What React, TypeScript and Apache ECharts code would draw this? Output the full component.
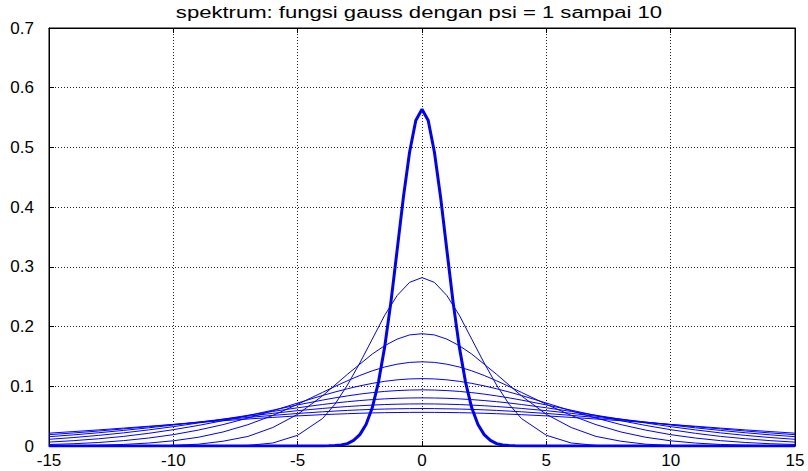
import React, { useEffect, useRef } from "react";
import * as echarts from "echarts";

const TITLE = "spektrum: fungsi gauss dengan psi = 1 sampai 10";
const X_TICKS = [-15, -10, -5, 0, 5, 10, 15];
const Y_TICKS = [0, 0.1, 0.2, 0.3, 0.4, 0.5, 0.6, 0.7];

// sample positions of the thin curves (psi = 2..10)
const xValues = [-15, -14, -13, -12, -11, -10, -9, -8, -7, -6, -5, -4, -3.5, -3, -2.5, -2, -1.5, -1, -0.5, 0, 0.5, 1, 1.5, 2, 2.5, 3, 3.5, 4, 5, 6, 7, 8, 9, 10, 11, 12, 13, 14, 15];
// sample positions of the thick curve (psi = 1)
const xValuesPsi1 = [-15, -4, -3.75, -3.5, -3.25, -3, -2.75, -2.5, -2.25, -2, -1.75, -1.5, -1.25, -1, -0.75, -0.5, -0.25, 0, 0.25, 0.5, 0.75, 1, 1.25, 1.5, 1.75, 2, 2.25, 2.5, 2.75, 3, 3.25, 3.5, 3.75, 4, 15];

const psi1 = [0, 0, 0.0003, 0.001, 0.0018, 0.004, 0.0093, 0.019, 0.036, 0.064, 0.107, 0.166, 0.241, 0.328, 0.416, 0.492, 0.545, 0.564, 0.545, 0.492, 0.416, 0.328, 0.241, 0.166, 0.107, 0.064, 0.036, 0.019, 0.0093, 0.004, 0.0018, 0.001, 0.0003, 0, 0];
const psi2 = [0, 0, 0, 0, 0, 0, 0, 0, 0.001, 0.005, 0.018, 0.046, 0.07, 0.102, 0.139, 0.179, 0.219, 0.252, 0.274, 0.282, 0.274, 0.252, 0.219, 0.179, 0.139, 0.102, 0.07, 0.046, 0.018, 0.005, 0.001, 0, 0, 0, 0, 0, 0, 0, 0];
const psi3 = [0, 0, 0, 0, 0, 0.001, 0.003, 0.008, 0.016, 0.031, 0.053, 0.084, 0.102, 0.12, 0.137, 0.154, 0.168, 0.179, 0.186, 0.188, 0.186, 0.179, 0.168, 0.154, 0.137, 0.12, 0.102, 0.084, 0.053, 0.031, 0.016, 0.008, 0.003, 0.001, 0, 0, 0, 0, 0];
const psi4 = [0.0003, 0.0006, 0.0013, 0.0026, 0.0049, 0.0087, 0.0146, 0.0235, 0.0357, 0.0512, 0.0698, 0.0898, 0.0997, 0.1092, 0.1181, 0.1259, 0.1323, 0.137, 0.14, 0.141, 0.14, 0.137, 0.1323, 0.1259, 0.1181, 0.1092, 0.0997, 0.0898, 0.0698, 0.0512, 0.0357, 0.0235, 0.0146, 0.0087, 0.0049, 0.0026, 0.0013, 0.0006, 0.0003];
const psi5 = [0.0025, 0.0038, 0.0059, 0.009, 0.0133, 0.019, 0.0266, 0.0358, 0.0468, 0.059, 0.072, 0.0846, 0.0904, 0.0958, 0.1007, 0.1049, 0.1083, 0.1108, 0.1123, 0.1128, 0.1123, 0.1108, 0.1083, 0.1049, 0.1007, 0.0958, 0.0904, 0.0846, 0.072, 0.059, 0.0468, 0.0358, 0.0266, 0.019, 0.0133, 0.009, 0.0059, 0.0038, 0.0025];
const psi6 = [0.0065, 0.009, 0.0121, 0.0161, 0.0212, 0.0273, 0.0344, 0.0424, 0.051, 0.06, 0.0688, 0.0769, 0.0806, 0.0839, 0.0869, 0.0894, 0.0914, 0.0928, 0.0937, 0.094, 0.0937, 0.0928, 0.0914, 0.0894, 0.0869, 0.0839, 0.0806, 0.0769, 0.0688, 0.06, 0.051, 0.0424, 0.0344, 0.0273, 0.0212, 0.0161, 0.0121, 0.009, 0.0065];
const psi7 = [0.0112, 0.0142, 0.0178, 0.022, 0.0269, 0.0324, 0.0385, 0.0449, 0.0514, 0.0579, 0.064, 0.0695, 0.072, 0.0742, 0.0761, 0.0777, 0.0789, 0.0799, 0.0804, 0.0806, 0.0804, 0.0799, 0.0789, 0.0777, 0.0761, 0.0742, 0.072, 0.0695, 0.064, 0.0579, 0.0514, 0.0449, 0.0385, 0.0324, 0.0269, 0.022, 0.0178, 0.0142, 0.0112];
const psi8 = [0.0156, 0.0187, 0.0222, 0.0261, 0.0304, 0.0351, 0.04, 0.045, 0.0499, 0.0547, 0.0592, 0.0629, 0.0646, 0.0661, 0.0674, 0.0685, 0.0694, 0.07, 0.0704, 0.0705, 0.0704, 0.07, 0.0694, 0.0685, 0.0674, 0.0661, 0.0646, 0.0629, 0.0592, 0.0547, 0.0499, 0.045, 0.04, 0.0351, 0.0304, 0.0261, 0.0222, 0.0187, 0.0156];
const psi9 = [0.019, 0.0219, 0.0251, 0.0286, 0.0322, 0.0361, 0.04, 0.0439, 0.0478, 0.0513, 0.0545, 0.0573, 0.0585, 0.0596, 0.0605, 0.0613, 0.0619, 0.0623, 0.0626, 0.0627, 0.0626, 0.0623, 0.0619, 0.0613, 0.0605, 0.0596, 0.0585, 0.0573, 0.0545, 0.0513, 0.0478, 0.0439, 0.04, 0.0361, 0.0322, 0.0286, 0.0251, 0.0219, 0.019];
const psi10 = [0.0215, 0.0242, 0.027, 0.03, 0.0331, 0.0361, 0.0393, 0.0423, 0.0452, 0.0479, 0.0504, 0.0525, 0.0533, 0.0541, 0.0548, 0.0554, 0.0558, 0.0561, 0.0563, 0.0564, 0.0563, 0.0561, 0.0558, 0.0554, 0.0548, 0.0541, 0.0533, 0.0525, 0.0504, 0.0479, 0.0452, 0.0423, 0.0393, 0.0361, 0.0331, 0.03, 0.027, 0.0242, 0.0215];

const seriesNames = ["psi = 1", "psi = 2", "psi = 3", "psi = 4", "psi = 5", "psi = 6", "psi = 7", "psi = 8", "psi = 9", "psi = 10"];
const seriesValues = [psi1, psi2, psi3, psi4, psi5, psi6, psi7, psi8, psi9, psi10];

const FONT = "'Liberation Sans', Arial, sans-serif";
const BLUE = "#0000ff";

export default function App() {
  const ref = useRef<HTMLDivElement>(null);
  useEffect(() => {
    if (!ref.current) return;
    const chart = echarts.init(ref.current, undefined, { renderer: "svg" });
    const gridLine = { show: true, lineStyle: { color: "#222", width: 1, type: [1, 2] as any } };
    const tickInside = { show: true, inside: true, length: 5, lineStyle: { color: "#000", width: 1 } };
    const axisLine = { show: true, onZero: false, lineStyle: { color: "#000", width: 1 } };
    const labelStyle = { color: "#000", fontSize: 17, fontFamily: FONT };
    const series: any[] = seriesValues.map((vals, i) => {
      const xs = i === 0 ? xValuesPsi1 : xValues;
      return {
        name: seriesNames[i],
        type: "line",
        xAxisIndex: 0,
        yAxisIndex: 0,
        data: xs.map((x, j) => [x, vals[j]]),
        showSymbol: false,
        symbol: "none",
        smooth: false,
        z: i === 0 ? 5 : 3,
        lineStyle: { color: BLUE, width: i === 0 ? 3 : 1 },
        itemStyle: { color: BLUE },
      };
    });
    chart.setOption({
      animation: false,
      backgroundColor: "#fff",
      graphic: [
        {
          type: "text",
          x: 419,
          y: 13,
          scaleX: 1.38,
          style: {
            text: TITLE,
            fill: "#000",
            font: `16px ${FONT}`,
            textAlign: "center",
            textVerticalAlign: "middle",
          },
        },
      ],
      grid: { left: 49, right: 13, top: 28, bottom: 25, show: true, borderColor: "#000", borderWidth: 1, backgroundColor: "#fff" },
      xAxis: [
        {
          type: "value",
          position: "bottom",
          min: X_TICKS[0],
          max: X_TICKS[X_TICKS.length - 1],
          interval: 5,
          axisLine,
          axisTick: tickInside,
          axisLabel: { ...labelStyle, margin: 6 },
          splitLine: gridLine,
        },
        {
          type: "value",
          position: "top",
          min: X_TICKS[0],
          max: X_TICKS[X_TICKS.length - 1],
          interval: 5,
          axisLine,
          axisTick: tickInside,
          axisLabel: { show: false },
          splitLine: { show: false },
        },
      ],
      yAxis: [
        {
          type: "value",
          position: "left",
          min: Y_TICKS[0],
          max: Y_TICKS[Y_TICKS.length - 1],
          interval: 0.1,
          axisLine,
          axisTick: tickInside,
          axisLabel: { ...labelStyle, margin: 15, formatter: (v: number) => String(Math.round(v * 10) / 10) },
          splitLine: gridLine,
        },
        {
          type: "value",
          position: "right",
          min: Y_TICKS[0],
          max: Y_TICKS[Y_TICKS.length - 1],
          interval: 0.1,
          axisLine,
          axisTick: tickInside,
          axisLabel: { show: false },
          splitLine: { show: false },
        },
      ],
      series,
    });
    return () => chart.dispose();
  }, []);
  return <div ref={ref} style={{ position: "fixed", left: 0, top: 0, width: 808, height: 471 }} />;
}
